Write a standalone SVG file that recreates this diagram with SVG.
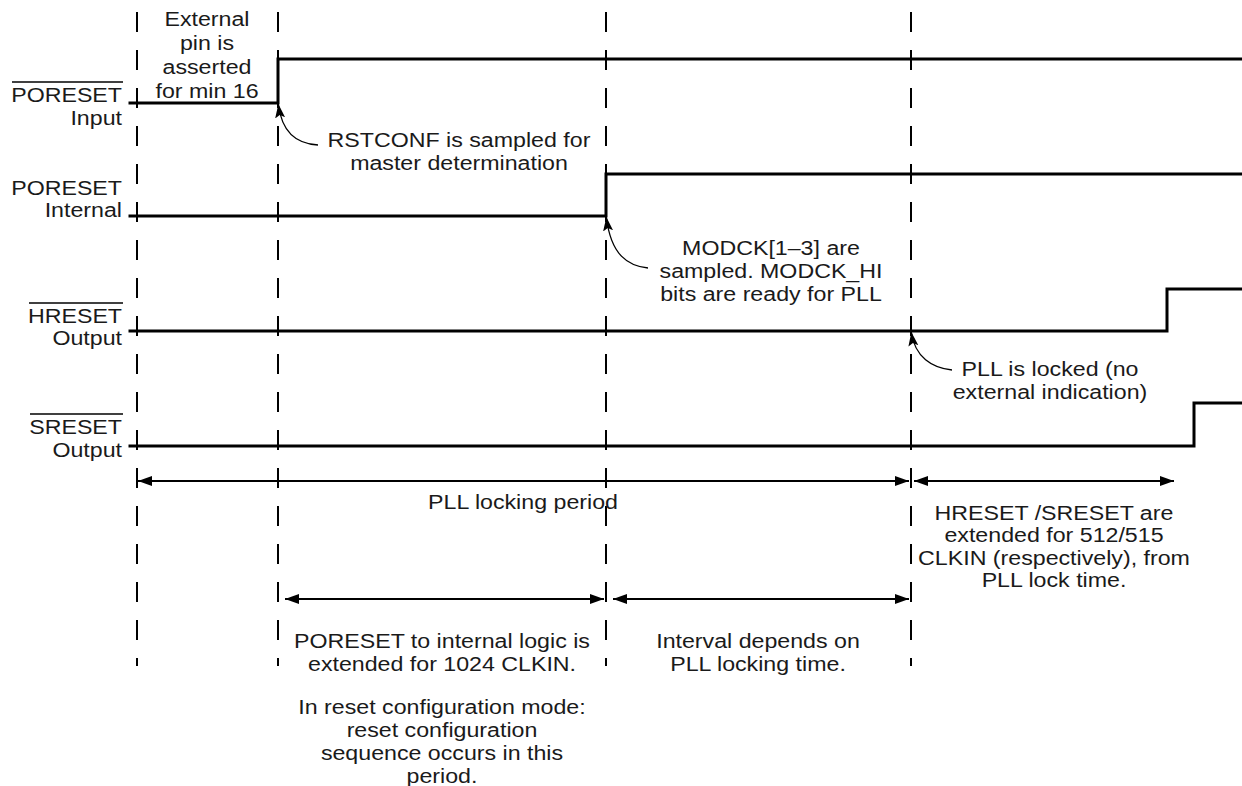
<svg xmlns="http://www.w3.org/2000/svg" width="1242" height="786" viewBox="0 0 1242 786">
<style>
text{font-family:"Liberation Sans",Arial,Helvetica,sans-serif;font-size:20px;fill:#1a1a1a}
.c{text-anchor:middle}
.r{text-anchor:end}
.grid{stroke:#000;stroke-width:2;stroke-dasharray:20 18;fill:none}
.sig{stroke:#000;stroke-width:3;fill:none;stroke-linejoin:miter;stroke-linecap:square}
.ptr{stroke:#000;stroke-width:1.3;fill:none}
.dim{stroke:#000;stroke-width:2;fill:none}
.ov{stroke:#000;stroke-width:1.5}
</style>
<defs>
<marker id="ah" markerUnits="userSpaceOnUse" markerWidth="16" markerHeight="12" refX="14" refY="5" orient="auto" viewBox="0 0 16 10">
<path d="M0,0 L14,5 L0,10 Z" fill="#000"/>
</marker>
<marker id="ahs" markerUnits="userSpaceOnUse" markerWidth="16" markerHeight="12" refX="14" refY="5" orient="auto-start-reverse" viewBox="0 0 16 10">
<path d="M0,0 L14,5 L0,10 Z" fill="#000"/>
</marker>
<marker id="pt" markerUnits="userSpaceOnUse" markerWidth="16" markerHeight="12" refX="13" refY="5" orient="auto" viewBox="0 0 16 10">
<path d="M0,0 L14,5 L0,10 L3,5 Z" fill="#000"/>
</marker>
</defs>

<g id="gridlines">
<line class="grid" x1="137" y1="12" x2="137" y2="666"/>
<line class="grid" x1="278" y1="12" x2="278" y2="666"/>
<line class="grid" x1="606" y1="12" x2="606" y2="666"/>
<line class="grid" x1="911" y1="12" x2="911" y2="666"/>
</g>

<g id="sig-poreset-input">
<line class="ov" x1="12" y1="82" x2="123" y2="82"/>
<text class="r" transform="matrix(1.16 0 0 1 122 0)" y="102">PORESET</text>
<text class="r" transform="matrix(1.16 0 0 1 122 0)" y="125">Input</text>
<path class="sig" d="M130,103 H278 V59 H1242"/>
</g>

<g id="sig-poreset-internal">
<text class="r" transform="matrix(1.16 0 0 1 122 0)" y="195">PORESET</text>
<text class="r" transform="matrix(1.16 0 0 1 122 0)" y="217">Internal</text>
<path class="sig" d="M130,216 H606 V174 H1242"/>
</g>

<g id="sig-hreset">
<line class="ov" x1="29" y1="303" x2="123" y2="303"/>
<text class="r" transform="matrix(1.16 0 0 1 122 0)" y="323">HRESET</text>
<text class="r" transform="matrix(1.16 0 0 1 122 0)" y="345">Output</text>
<path class="sig" d="M130,331 H1167 V289 H1242"/>
</g>

<g id="sig-sreset">
<line class="ov" x1="30" y1="414" x2="123" y2="414"/>
<text class="r" transform="matrix(1.16 0 0 1 122 0)" y="434">SRESET</text>
<text class="r" transform="matrix(1.16 0 0 1 122 0)" y="457">Output</text>
<path class="sig" d="M130,446 H1194 V403 H1242"/>
</g>

<g id="note-external">
<text class="c" transform="matrix(1.16 0 0 1 207 0)" y="26">External</text>
<text class="c" transform="matrix(1.16 0 0 1 207 0)" y="50">pin is</text>
<text class="c" transform="matrix(1.16 0 0 1 207 0)" y="74">asserted</text>
<text class="c" transform="matrix(1.16 0 0 1 207 0)" y="98">for min 16</text>
</g>

<g id="note-rstconf">
<text class="c" transform="matrix(1.16 0 0 1 459 0)" y="147">RSTCONF is sampled for</text>
<text class="c" transform="matrix(1.16 0 0 1 459 0)" y="170">master determination</text>
</g>

<g id="note-modck">
<text class="c" transform="matrix(1.16 0 0 1 771 0)" y="255">MODCK[1–3] are</text>
<text class="c" transform="matrix(1.16 0 0 1 771 0)" y="278">sampled. MODCK_HI</text>
<text class="c" transform="matrix(1.16 0 0 1 771 0)" y="301">bits are ready for PLL</text>
</g>

<g id="note-pll-locked">
<text class="c" transform="matrix(1.16 0 0 1 1050 0)" y="376">PLL is locked (no</text>
<text class="c" transform="matrix(1.16 0 0 1 1050 0)" y="399">external indication)</text>
</g>

<g id="note-pll-period">
<text class="c" transform="matrix(1.16 0 0 1 523 0)" y="509">PLL locking period</text>
</g>

<g id="note-extended">
<text class="c" transform="matrix(1.16 0 0 1 1054 0)" y="520">HRESET /SRESET are</text>
<text class="c" transform="matrix(1.16 0 0 1 1054 0)" y="542">extended for 512/515</text>
<text class="c" transform="matrix(1.16 0 0 1 1054 0)" y="565">CLKIN (respectively), from</text>
<text class="c" transform="matrix(1.16 0 0 1 1054 0)" y="587">PLL lock time.</text>
</g>

<g id="note-poreset-ext">
<text class="c" transform="matrix(1.16 0 0 1 442 0)" y="648">PORESET to internal logic is</text>
<text class="c" transform="matrix(1.16 0 0 1 442 0)" y="671">extended for 1024 CLKIN.</text>
</g>

<g id="note-reset-config">
<text class="c" transform="matrix(1.16 0 0 1 442 0)" y="714">In reset configuration mode:</text>
<text class="c" transform="matrix(1.16 0 0 1 442 0)" y="737">reset configuration</text>
<text class="c" transform="matrix(1.16 0 0 1 442 0)" y="760">sequence occurs in this</text>
<text class="c" transform="matrix(1.16 0 0 1 442 0)" y="783">period.</text>
</g>

<g id="note-interval">
<text class="c" transform="matrix(1.16 0 0 1 758 0)" y="648">Interval depends on</text>
<text class="c" transform="matrix(1.16 0 0 1 758 0)" y="671">PLL locking time.</text>
</g>

<g id="connectors">
<path class="ptr" d="M318,145 C298,144 282,133 278.5,105" marker-end="url(#pt)"/>
<path class="ptr" d="M648,268 C628,266 611,255 606.5,218" marker-end="url(#pt)"/>
<path class="ptr" d="M952,370 C932,368 915,357 911.5,333" marker-end="url(#pt)"/>
<line class="dim" x1="138" y1="481" x2="909" y2="481" marker-start="url(#ahs)" marker-end="url(#ah)"/>
<line class="dim" x1="914" y1="481" x2="1174" y2="481" marker-start="url(#ahs)" marker-end="url(#ah)"/>
<line class="dim" x1="285" y1="599" x2="604" y2="599" marker-start="url(#ahs)" marker-end="url(#ah)"/>
<line class="dim" x1="613" y1="599" x2="909" y2="599" marker-start="url(#ahs)" marker-end="url(#ah)"/>
</g>
</svg>
